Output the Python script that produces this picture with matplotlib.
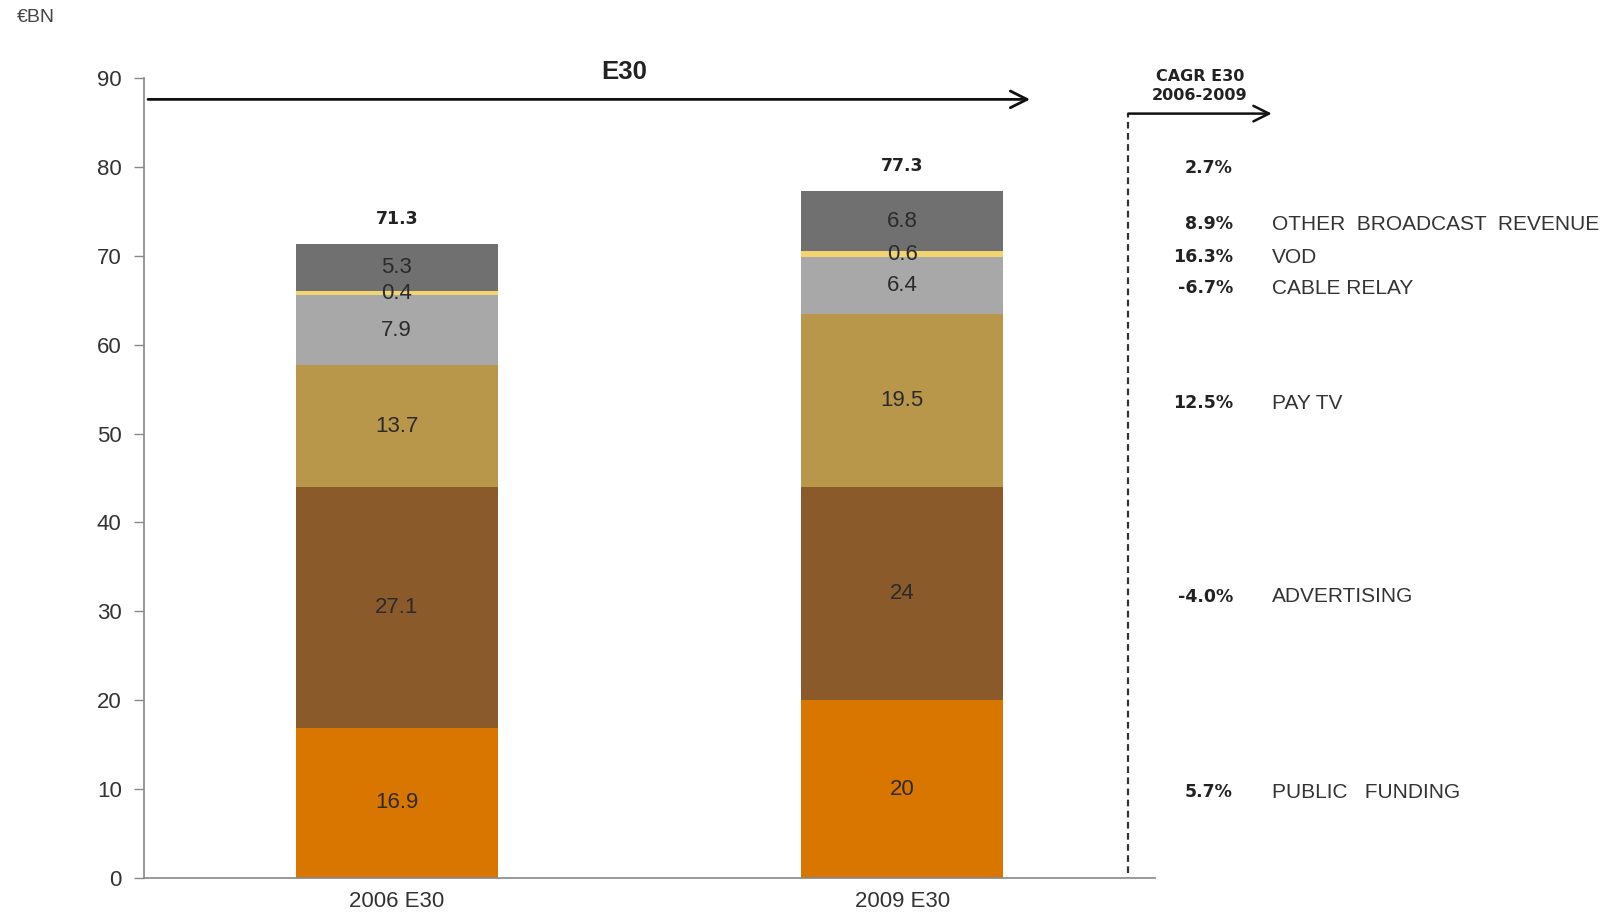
import matplotlib
matplotlib.use("Agg")
import matplotlib.pyplot as plt
import numpy as np

# E30 revenue by source, EUR bn
years = ["2006 E30", "2009 E30"]
segments = ["PUBLIC   FUNDING", "ADVERTISING", "PAY TV", "CABLE RELAY", "VOD",
            "OTHER  BROADCAST  REVENUE"]
values_2006 = [16.9, 27.1, 13.7, 7.9, 0.4, 5.3]
values_2009 = [20, 24, 19.5, 6.4, 0.6, 6.8]
totals = [71.3, 77.3]
cagr = ["5.7%", "-4.0%", "12.5%", "-6.7%", "16.3%", "8.9%"]
cagr_total = "2.7%"

colors = ["#D97600", "#8B5A2B", "#B8964A", "#A8A8A8", "#F2D470", "#707070"]

plt.rcParams["font.family"] = ["Liberation Sans", "DejaVu Sans"]

fig = plt.figure(figsize=(16.14, 9.15), dpi=100)
ax = fig.add_axes([0.0892, 0.0404, 0.6264, 0.8743])

x = np.arange(len(years))
width = 0.4
data = np.array([values_2006, values_2009])
bottoms = np.zeros(len(years))
for i, seg in enumerate(segments):
    vals = data[:, i]
    ax.bar(x, vals, width, bottom=bottoms, color=colors[i], linewidth=0)
    for xi, b, v in zip(x, bottoms, vals):
        ax.text(xi, b + v / 2, f"{v:g}", ha="center", va="center",
                fontsize=16, color="#2b2b2b")
    bottoms += vals

for xi, t in zip(x, totals):
    ax.text(xi, t + 2.8, f"{t:g}", ha="center", va="center", fontsize=12.5,
            fontweight="bold", color="#222222", family="DejaVu Sans")

ax.set_xlim(-0.5, 1.5)
ax.set_ylim(0, 90)
ax.set_yticks(range(0, 91, 10))
ax.set_xticks(x)
ax.set_xticklabels(years)
ax.tick_params(axis="x", length=0, pad=9, labelsize=16, labelcolor="#333333")
ax.tick_params(axis="y", length=7, width=1, color="#888888", pad=9,
               labelsize=16, labelcolor="#333333")
for side in ["top", "right"]:
    ax.spines[side].set_visible(False)
for side in ["left", "bottom"]:
    ax.spines[side].set_color("#888888")
    ax.spines[side].set_linewidth(1.2)

# E30 arrow over the bars
ax.annotate("", xy=(1.253, 87.6), xytext=(-0.492, 87.6),
            arrowprops=dict(arrowstyle="->", lw=2, color="#111111",
                            mutation_scale=30, shrinkA=0, shrinkB=0),
            annotation_clip=False)
ax.text(0.45, 90.7, "E30", ha="center", va="center", fontsize=18.5,
        fontweight="bold", color="#222222")

# CAGR column
ax.plot([1.447, 1.447], [0.6, 86.0], ls=(0, (3, 2)), lw=1.6, color="#333333",
        clip_on=False)
ax.annotate("", xy=(1.731, 86.0), xytext=(1.447, 86.0),
            arrowprops=dict(arrowstyle="->", lw=1.8, color="#111111",
                            mutation_scale=28, shrinkA=0, shrinkB=0),
            annotation_clip=False)
ax.text(1.589, 89.1, "CAGR E30\n2006-2009", ha="center", va="center",
        fontsize=11.5, fontweight="bold", color="#222222", family="DejaVu Sans",
        linespacing=1.35)

mids = np.cumsum(values_2009) - np.array(values_2009) / 2 - 0.35
for m, c, seg in zip(mids, cagr, segments):
    ax.text(1.654, m, c, ha="right", va="center", fontsize=12.5,
            fontweight="bold", color="#222222", family="DejaVu Sans",
            clip_on=False)
    ax.text(1.731, m, seg, ha="left", va="center", fontsize=15,
            color="#333333", clip_on=False)
ax.text(1.654, totals[1] + 2.6, cagr_total, ha="right", va="center",
        fontsize=12.5, fontweight="bold", color="#222222", family="DejaVu Sans",
        clip_on=False)

fig.text(36 / 1614, 1 - 18 / 915, "€BN", ha="center", va="center",
         fontsize=14, color="#444444")

fig.savefig("out.png", dpi=100)
